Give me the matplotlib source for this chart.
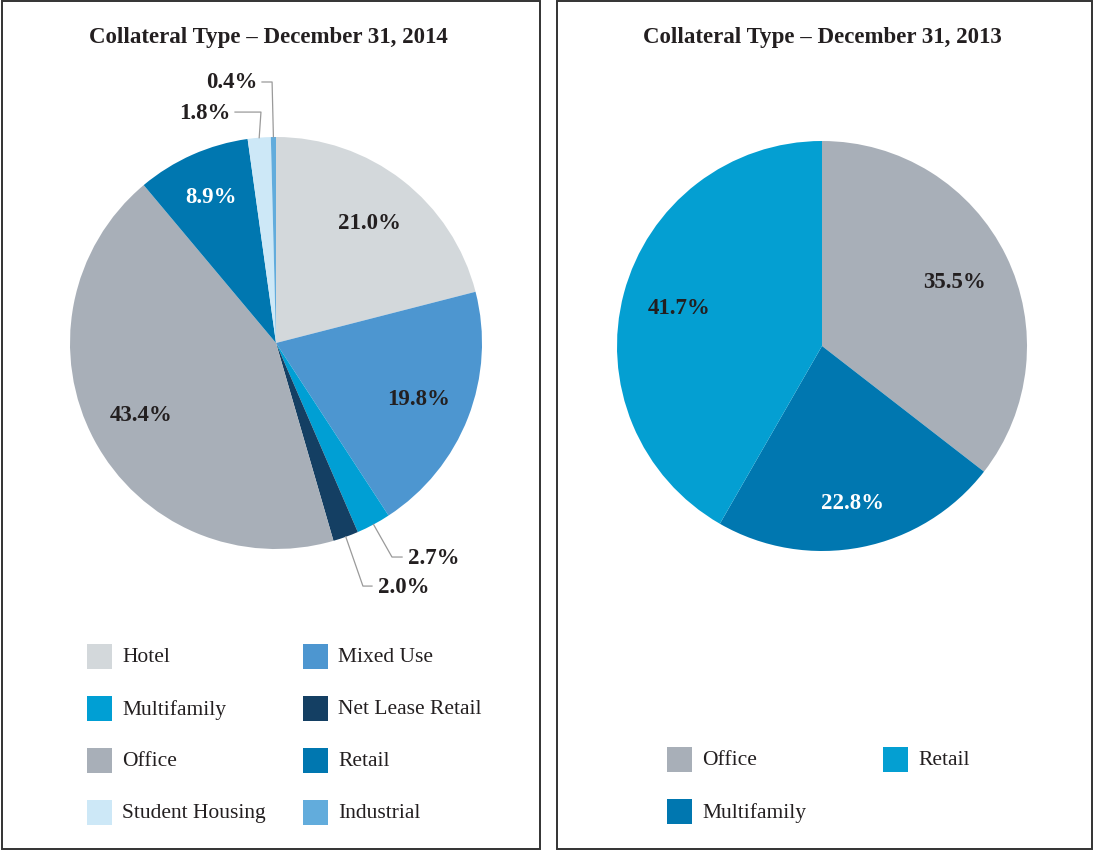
import matplotlib
matplotlib.use("Agg")
import matplotlib.pyplot as plt
from matplotlib.patches import Rectangle
from matplotlib.lines import Line2D
import numpy as np

# ---- data ----
cats_2014 = ["Hotel", "Mixed Use", "Multifamily", "Net Lease Retail",
             "Office", "Retail", "Student Housing", "Industrial"]
vals_2014 = [21.0, 19.8, 2.7, 2.0, 43.4, 8.9, 1.8, 0.4]
legend_2014 = ["Hotel", "Mixed Use", "Multifamily", "Net Lease Retail",
               "Office", "Retail", "Student Housing", "Industrial"]

cats_2013 = ["Office", "Multifamily", "Retail"]
vals_2013 = [35.5, 22.8, 41.7]
legend_2013 = ["Office", "Retail", "Multifamily"]

title_2014 = "Collateral Type \u2013 December 31, 2014"
title_2013 = "Collateral Type \u2013 December 31, 2013"

# ---- styles ----
colors = {
    "Hotel": "#d3d8db",
    "Mixed Use": "#4d96d0",
    "Multifamily": "#009fd4",
    "Net Lease Retail": "#143f63",
    "Office": "#a8afb8",
    "Retail": "#0077b0",
    "Student Housing": "#cde8f7",
    "Industrial": "#62acdc",
}
colors_2013 = {"Office": "#a8afb8", "Multifamily": "#0077b0", "Retail": "#049fd2"}
white_text = {"#0077b0"}
TXT = "#231f20"
SERIF = ["Liberation Serif", "DejaVu Serif"]
plt.rcParams["font.family"] = SERIF
PCT_FS = 16.5
LEG_FS = 15.5

W, H = 1094, 853
fig = plt.figure(figsize=(W / 100, H / 100), dpi=100)


def fx(x):
    return x / W


def fy(y):
    return 1 - y / H


# panel borders
for x0, x1 in [(2, 540), (557, 1092)]:
    fig.patches.append(Rectangle((fx(x0), fy(850)), fx(x1) - fx(x0), fy(2) - fy(850),
                                 transform=fig.transFigure, fill=False,
                                 edgecolor="#333333", linewidth=1.4))

fig.text(fx(268), fy(38), title_2014, ha="center", va="center",
         fontsize=16.5, fontweight="bold", color=TXT)
fig.text(fx(822), fy(38), title_2013, ha="center", va="center",
         fontsize=16.5, fontweight="bold", color=TXT)


def pie_axes(cx, cy, r):
    ax = fig.add_axes([fx(cx - r), fy(cy + r), (2 * r) / W, (2 * r) / H])
    ax.axis("off")
    return ax


# external label layout for small slices (elbow, end, text side)
ext_2014 = {
    "Multifamily": ((0.563, -1.039), (0.612, -1.039), "left"),
    "Net Lease Retail": ((0.422, -1.180), (0.466, -1.180), "left"),
    "Student Housing": ((-0.073, 1.121), (-0.199, 1.121), "right"),
    "Industrial": ((-0.019, 1.267), (-0.068, 1.267), "right"),
}


def draw_pie(ax, cats, vals, cmap, ext, pctd):
    wedges, _ = ax.pie(vals, colors=[cmap[c] for c in cats], startangle=90,
                       counterclock=False, radius=1.0,
                       wedgeprops=dict(linewidth=0))
    ax.set_xlim(-1, 1)
    ax.set_ylim(-1, 1)
    for w, c, v in zip(wedges, cats, vals):
        ang = np.deg2rad((w.theta1 + w.theta2) / 2)
        lab = f"{v:.1f}%"
        if c in ext:
            (ex, ey), (hx, hy), side = ext[c]
            sx, sy = np.cos(ang), np.sin(ang)
            ax.add_line(Line2D([sx, ex, hx], [sy, ey, hy], color="#9a9a9a",
                               linewidth=0.9, clip_on=False))
            off = 0.03 if side == "left" else -0.02
            ax.text(hx + off, hy, lab, ha=side, va="center", fontsize=PCT_FS,
                    fontweight="bold", color=TXT, clip_on=False)
        else:
            d = pctd.get(c, 0.74)
            col = "white" if cmap[c] in white_text else TXT
            ax.text(d * np.cos(ang), d * np.sin(ang), lab, ha="center", va="center",
                    fontsize=PCT_FS, fontweight="bold", color=col)


ax1 = pie_axes(276, 344, 206)
draw_pie(ax1, cats_2014, vals_2014, colors, ext_2014, {"Hotel": 0.74, "Retail": 0.78})

ax2 = pie_axes(822, 347, 205)
draw_pie(ax2, cats_2013, vals_2013, colors_2013, {}, {"Office": 0.72, "Multifamily": 0.78, "Retail": 0.72})


def draw_legend(names, cmap, col_x, row_y0, row_dy):
    for i, n in enumerate(names):
        cx = col_x[i % 2]
        cy = row_y0 + (i // 2) * row_dy
        fig.patches.append(Rectangle((fx(cx), fy(cy + 12.5)), 25 / W, 25 / H,
                                     transform=fig.transFigure, facecolor=cmap[n],
                                     edgecolor="none"))
        fig.text(fx(cx + 35), fy(cy + 1), n, ha="left", va="center",
                 fontsize=LEG_FS, color=TXT)


draw_legend(legend_2014, colors, [87, 303], 657, 52)
draw_legend(legend_2013, colors_2013, [667, 883], 760, 52)

fig.savefig("out.png", dpi=100)
